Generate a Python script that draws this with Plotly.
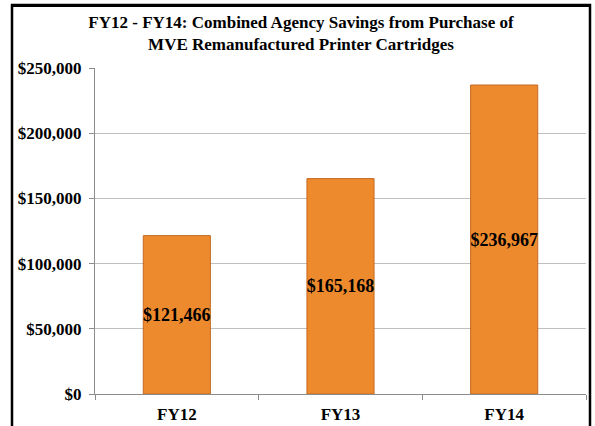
import plotly.graph_objects as go

categories = ["FY12", "FY13", "FY14"]
savings = [121466, 165168, 236967]
tick_values = [0, 50000, 100000, 150000, 200000, 250000]
tick_labels = ["$0", "$50,000", "$100,000", "$150,000", "$200,000", "$250,000"]
title_text = "FY12 - FY14: Combined Agency Savings from Purchase of<br>MVE Remanufactured Printer Cartridges"

labels = [f"${v:,}" for v in savings]
font_family = "Liberation Serif, Times New Roman, serif"

fig = go.Figure()
fig.add_trace(go.Bar(
    x=categories,
    y=savings,
    width=0.41,
    text=labels,
    textposition="inside",
    insidetextanchor="middle",
    textangle=0,
    constraintext="none",
    textfont=dict(family=font_family, size=18, color="#000000", weight="bold"),
    marker=dict(color="#EE8A2E", line=dict(color="#C46A22", width=1)),
    hoverinfo="x+y",
))

W, H = 595, 426
ml, mr, mt, mb = 95, 9, 68, 32
pw, ph = W - ml - mr, H - mt - mb

def px_x(px):
    return (px - ml) / pw

def px_y(py):
    return (H - mb - py) / ph

shapes = [
    dict(type="rect", xref="paper", yref="paper",
         x0=px_x(12), x1=px_x(590), y0=px_y(440), y1=px_y(5),
         line=dict(color="#000000", width=2.5), fillcolor="rgba(0,0,0,0)",
         layer="above"),
]

fig.update_layout(
    width=W, height=H,
    margin=dict(l=ml, r=mr, t=mt, b=mb),
    paper_bgcolor="#FFFFFF",
    plot_bgcolor="#FFFFFF",
    showlegend=False,
    shapes=shapes,
    title=dict(
        text=title_text,
        x=301 / W, xanchor="center", xref="container",
        y=1 - 28 / H, yanchor="middle", yref="container",
        font=dict(family=font_family, size=17, color="#000000", weight="bold"),
    ),
    font=dict(family=font_family, color="#000000"),
)

fig.update_yaxes(
    range=[0, 250000],
    tickvals=tick_values,
    ticktext=tick_labels,
    showgrid=True,
    gridcolor="#BFBFBF",
    gridwidth=1,
    showline=True,
    linecolor="#8C8C8C",
    linewidth=1,
    ticks="outside",
    ticklen=5,
    tickcolor="#8C8C8C",
    ticklabelstandoff=4,
    tickfont=dict(family=font_family, size=17, color="#000000", weight="bold"),
    zeroline=False,
    automargin=False,
)
fig.update_xaxes(
    showline=True,
    linecolor="#8C8C8C",
    linewidth=1,
    ticks="outside",
    tickson="boundaries",
    ticklen=5,
    tickcolor="#8C8C8C",
    ticklabelstandoff=5,
    tickfont=dict(family=font_family, size=17, color="#000000", weight="bold"),
    automargin=False,
)

post = (
    "document.body.style.margin='0';"
    "var b=document.createElement('div');"
    "b.style.cssText='position:absolute;left:11px;top:4px;width:580px;height:3px;background:#000;pointer-events:none;z-index:10;';"
    "document.body.appendChild(b);"
)

fig.write_html(
    "out.html",
    config={"displayModeBar": False},
    post_script=post,
)
